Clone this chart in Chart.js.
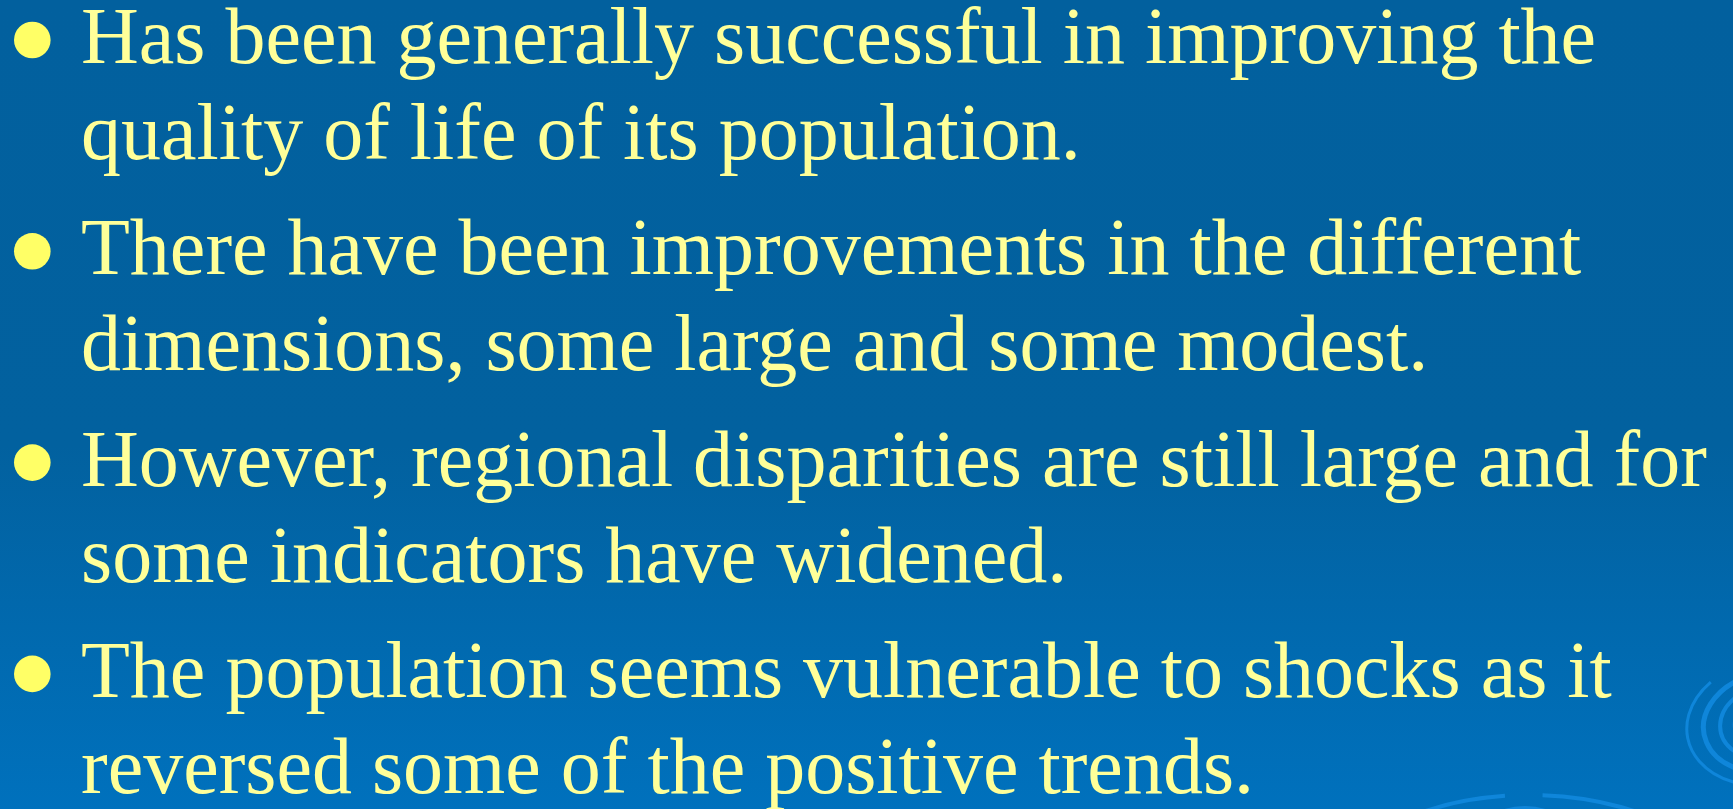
<!DOCTYPE html>
<html>
<head>
<meta charset="utf-8">
<script src="https://cdn.jsdelivr.net/npm/chart.js@4.4.1/dist/chart.umd.min.js"></script>
<style>
  html, body { margin: 0; padding: 0; width: 1733px; height: 809px; overflow: hidden; background: #02609E; }
  #wrap { position: relative; width: 1733px; height: 809px; }
  #c { position: absolute; left: 0; top: 0; }
  .para { position: absolute; left: 81px; font-family: "Liberation Serif", "Times New Roman", serif;
          font-size: 80px; line-height: 96px; color: #FFFF99; white-space: nowrap; }
</style>
</head>
<body>
<div id="wrap">
  <canvas id="c" width="1733" height="809"></canvas>
  <div id="text"></div>
</div>
<script>
// Slide content
const bulletLines = [
  ["Has been generally successful in improving the", "quality of life of its population."],
  ["There have been improvements in the different", "dimensions, some large and some modest."],
  ["However, regional disparities are still large and for", "some indicators have widened."],
  ["The population seems vulnerable to shocks as it", "reversed some of the positive trends."]
];
const bulletRows = [0, 1, 2, 3];

// layout constants (pixels)
const W = 1733, H = 809;
const firstBaseline = 63, paraStep = 211.3, bulletAbove = 23, bulletX = 32.3;

// text as real HTML
const textBox = document.getElementById('text');
bulletLines.forEach((lines, i) => {
  const d = document.createElement('div');
  d.className = 'para';
  d.style.top = (firstBaseline + paraStep * i - 75) + 'px';
  d.innerHTML = lines.map(s => s.replace(/&/g, '&amp;')).join('<br>');
  textBox.appendChild(d);
});

// background plugin: gradient + decorative swirls
const bgPlugin = {
  id: 'slideBg',
  beforeDraw(chart) {
    const ctx = chart.ctx;
    ctx.save();
    const g = ctx.createLinearGradient(0, 0, 0, H);
    g.addColorStop(0, '#02609E');
    g.addColorStop(0.55, '#02619F');
    g.addColorStop(1, '#0071BD');
    ctx.fillStyle = g;
    ctx.fillRect(0, 0, W, H);
    // right swirl
    ctx.strokeStyle = '#0F86DA';
    ctx.lineCap = 'butt';
    const sw = [
      {r: 78, a0: 0.62, a1: 1.30, w: 3},
      {r: 62, a0: 0.70, a1: 1.42, w: 5},
      {r: 46, a0: 0.55, a1: 1.55, w: 4},
      {r: 30, a0: 0.60, a1: 1.50, w: 8}
    ];
    sw.forEach(s => {
      ctx.lineWidth = s.w;
      ctx.beginPath();
      ctx.ellipse(1768, 722, s.r * 1.05, s.r * 0.8, -0.2, Math.PI * s.a0, Math.PI * s.a1);
      ctx.stroke();
    });
    // bottom arcs
    ctx.lineWidth = 4;
    ctx.beginPath();
    ctx.ellipse(1530, 905, 200, 110, 0, Math.PI * 1.25, Math.PI * 1.46);
    ctx.stroke();
    ctx.beginPath();
    ctx.ellipse(1530, 905, 200, 110, 0, Math.PI * 1.52, Math.PI * 1.78);
    ctx.stroke();
    ctx.beginPath();
    ctx.ellipse(1525, 880, 70, 72, 0, Math.PI * 1.32, Math.PI * 1.68);
    ctx.stroke();
    ctx.restore();
  }
};

// scales mapped so that row index -> bullet pixel position
const yMin = -(firstBaseline - bulletAbove) / paraStep;
const yMax = yMin + H / paraStep;
const xMin = -1, xMax = xMin + W / bulletX;

new Chart(document.getElementById('c'), {
  type: 'scatter',
  data: {
    datasets: [{
      data: bulletRows.map(r => ({x: 0, y: r})),
      pointStyle: 'circle',
      pointRadius: 18.3,
      pointHoverRadius: 18.3,
      backgroundColor: '#FFFF66',
      borderWidth: 0
    }]
  },
  options: {
    responsive: false,
    animation: false,
    events: [],
    layout: { padding: 0, autoPadding: false },
    plugins: { legend: { display: false }, tooltip: { enabled: false }, title: { display: false } },
    scales: {
      x: { type: 'linear', min: xMin, max: xMax, display: false },
      y: { type: 'linear', min: yMin, max: yMax, reverse: true, display: false }
    }
  },
  plugins: [bgPlugin]
});
</script>
</body>
</html>
